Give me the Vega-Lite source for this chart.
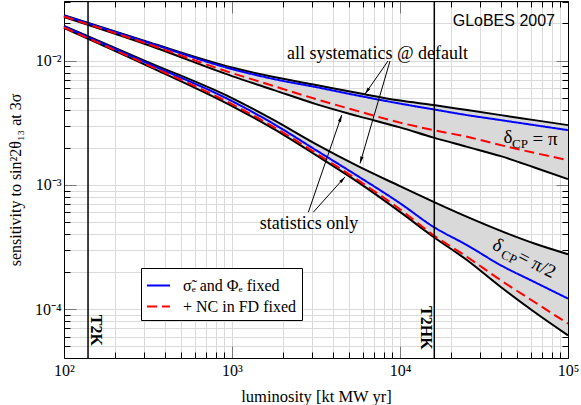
{
  "$schema": "https://vega.github.io/schema/vega-lite/v6.json",
  "width": 504,
  "height": 357,
  "autosize": "none",
  "padding": {"left": 64, "top": 1, "right": 13, "bottom": 47},
  "background": "white",
  "config": {"view": {"stroke": "black", "strokeWidth": 1}, "font": "Liberation Serif"},
  "resolve": {"axis": {"x": "independent", "y": "independent"}},
  "datasets": {
    "curves": [
      {"lum": 100, "delta": "pi", "sys": 0.02323, "blue": 0.02310, "red": 0.02273, "stat": 0.02251},
      {"lum": 316.2, "delta": "pi", "sys": 0.01415, "blue": 0.01402, "red": 0.01364, "stat": 0.01339},
      {"lum": 1000, "delta": "pi", "sys": 0.008814, "blue": 0.008573, "red": 0.007961, "stat": 0.007526},
      {"lum": 1778, "delta": "pi", "sys": 0.007388, "blue": 0.007118, "red": 0.006252, "stat": 0.005803},
      {"lum": 3162, "delta": "pi", "sys": 0.006368, "blue": 0.006136, "red": 0.004910, "stat": 0.004475},
      {"lum": 5623, "delta": "pi", "sys": 0.005490, "blue": 0.005240, "red": 0.003929, "stat": 0.003581},
      {"lum": 10000, "delta": "pi", "sys": 0.004775, "blue": 0.004517, "red": 0.003174, "stat": 0.002904},
      {"lum": 15849, "delta": "pi", "sys": 0.004392, "blue": 0.004056, "red": 0.002761, "stat": 0.002402},
      {"lum": 25119, "delta": "pi", "sys": 0.004003, "blue": 0.003648, "red": 0.002438, "stat": 0.002025},
      {"lum": 39811, "delta": "pi", "sys": 0.003648, "blue": 0.003324, "red": 0.002090, "stat": 0.001704},
      {"lum": 63096, "delta": "pi", "sys": 0.003324, "blue": 0.003030, "red": 0.001812, "stat": 0.001381},
      {"lum": 100000, "delta": "pi", "sys": 0.003030, "blue": 0.002761, "red": 0.001582, "stat": 0.001112},
      {"lum": 100, "delta": "pi/2", "sys": 0.01905, "blue": 0.01887, "red": 0.01852, "stat": 0.01835},
      {"lum": 316.2, "delta": "pi/2", "sys": 0.009761, "blue": 0.009493, "red": 0.009233, "stat": 0.009064},
      {"lum": 1000, "delta": "pi/2", "sys": 0.005002, "blue": 0.004732, "red": 0.004475, "stat": 0.004312},
      {"lum": 1778, "delta": "pi/2", "sys": 0.003324, "blue": 0.003087, "red": 0.002919, "stat": 0.002813},
      {"lum": 3162, "delta": "pi/2", "sys": 0.002129, "blue": 0.001905, "red": 0.001801, "stat": 0.001736},
      {"lum": 5623, "delta": "pi/2", "sys": 0.001415, "blue": 0.001175, "red": 0.001091, "stat": 0.001051},
      {"lum": 10000, "delta": "pi/2", "sys": 0.0009761, "blue": 0.0007117, "red": 0.0006368, "stat": 0.0006056},
      {"lum": 15849, "delta": "pi/2", "sys": 0.0007292, "blue": 0.0004584, "red": 0.0003929, "stat": 0.0003806},
      {"lum": 25119, "delta": "pi/2", "sys": 0.0005516, "blue": 0.0003264, "red": 0.0002626, "stat": 0.0002470},
      {"lum": 39811, "delta": "pi/2", "sys": 0.0004256, "blue": 0.0002251, "red": 0.0001704, "stat": 0.0001504},
      {"lum": 63096, "delta": "pi/2", "sys": 0.0003369, "blue": 0.0001651, "red": 0.0001139, "stat": 0.00009458},
      {"lum": 100000, "delta": "pi/2", "sys": 0.0002761, "blue": 0.0001213, "red": 0.00007623, "stat": 0.00006136}
    ],
    "arrows": [
      {"x": 8483, "y": 0.009944, "x2": 6190, "y2": 0.005389},
      {"x": 8720, "y": 0.009944, "x2": 5781, "y2": 0.001488},
      {"x": 2847, "y": 0.0006023, "x2": 4498, "y2": 0.003648},
      {"x": 3047, "y": 0.0006023, "x2": 4706, "y2": 0.001160}
    ]
  },
  "layer": [
    {
      "data": {"name": "curves"},
      "mark": {"type": "area", "color": "#d9d9d9", "interpolate": "monotone"},
      "encoding": {
        "x": {
          "field": "lum", "type": "quantitative",
          "scale": {"type": "log", "domain": [100, 100000], "nice": false},
          "axis": {
            "orient": "bottom",
            "values": [100,200,300,400,500,600,700,800,900,1000,2000,3000,4000,5000,6000,7000,8000,9000,10000,20000,30000,40000,50000,60000,70000,80000,90000,100000],
            "labelExpr": "datum.value == 100 ? '10²' : datum.value == 1000 ? '10³' : datum.value == 10000 ? '10⁴' : datum.value == 100000 ? '10⁵' : ''",
            "labelFont": "Liberation Serif", "labelFontSize": 16, "labelColor": "black",
            "labelPadding": 16, "labelFlush": false, "labelOverlap": false, "labelBound": false,
            "tickSize": {"condition": {"test": "abs(log(datum.value)/LN10 - round(log(datum.value)/LN10)) < 0.001", "value": -12}, "value": -6},
            "tickColor": {"condition": {"test": "abs(log(datum.value)/LN10 - round(log(datum.value)/LN10)) < 0.001", "value": "#777777"}, "value": "black"},
            "tickWidth": 1,
            "grid": true, "gridColor": "#dadada", "gridWidth": 1,
            "domainColor": "black", "domainWidth": 1,
            "title": "luminosity [kt MW yr]", "titleFont": "Liberation Serif", "titleFontSize": 16.5, "titleFontWeight": "normal", "titleColor": "black", "titlePadding": 4
          }
        },
        "y": {
          "field": "sys", "type": "quantitative",
          "scale": {"type": "log", "domain": [0.0000403, 0.0303], "nice": false},
          "axis": {
            "orient": "left",
            "values": [0.00005,0.00006,0.00007,0.00008,0.00009,0.0001,0.0002,0.0003,0.0004,0.0005,0.0006,0.0007,0.0008,0.0009,0.001,0.002,0.003,0.004,0.005,0.006,0.007,0.008,0.009,0.01,0.02,0.03],
            "labelExpr": "datum.value == 0.01 ? '10⁻²' : datum.value == 0.001 ? '10⁻³' : datum.value == 0.0001 ? '10⁻⁴' : ''",
            "labelFont": "Liberation Serif", "labelFontSize": 16, "labelColor": "black",
            "labelPadding": 15, "labelFlush": false, "labelOverlap": false, "labelBound": false,
            "tickSize": {"condition": {"test": "abs(log(datum.value)/LN10 - round(log(datum.value)/LN10)) < 0.001", "value": -12}, "value": -6},
            "tickColor": {"condition": {"test": "abs(log(datum.value)/LN10 - round(log(datum.value)/LN10)) < 0.001", "value": "#777777"}, "value": "black"},
            "tickWidth": 1,
            "grid": true, "gridColor": "#dadada", "gridWidth": 1,
            "domainColor": "black", "domainWidth": 1,
            "title": "sensitivity to sin²2θ₁₃ at 3σ", "titleFont": "Liberation Serif", "titleFontSize": 16, "titleFontWeight": "normal", "titleColor": "black", "titlePadding": 11
          }
        },
        "y2": {"field": "stat"},
        "detail": {"field": "delta"}
      }
    },
    {
      "data": {"name": "curves"},
      "mark": {"type": "line", "color": "black", "strokeWidth": 2, "interpolate": "monotone"},
      "encoding": {
        "x": {"field": "lum", "type": "quantitative", "axis": null},
        "y": {"field": "sys", "type": "quantitative", "axis": null},
        "detail": {"field": "delta"}
      }
    },
    {
      "data": {"name": "curves"},
      "mark": {"type": "line", "color": "black", "strokeWidth": 2, "interpolate": "monotone"},
      "encoding": {
        "x": {"field": "lum", "type": "quantitative", "axis": null},
        "y": {"field": "stat", "type": "quantitative", "axis": null},
        "detail": {"field": "delta"}
      }
    },
    {
      "data": {"name": "curves"},
      "mark": {"type": "line", "strokeWidth": 2, "interpolate": "monotone"},
      "encoding": {
        "x": {"field": "lum", "type": "quantitative", "axis": null},
        "y": {"field": "blue", "type": "quantitative", "axis": null},
        "detail": {"field": "delta"},
        "color": {
          "datum": "σ̃ₑ and Φₑ fixed",
          "scale": {"domain": ["σ̃ₑ and Φₑ fixed", "+ NC in FD fixed"], "range": ["#0000ff", "#ff0000"]},
          "legend": {"title": null, "orient": "none", "legendX": 77, "legendY": 267, "direction": "vertical", "symbolType": "stroke", "symbolSize": 529, "symbolStrokeWidth": 2, "labelFont": "Liberation Serif", "labelFontSize": 16, "labelColor": "black", "labelOffset": 12, "rowPadding": 0, "padding": 5, "strokeColor": "black", "fillColor": "white", "labelLimit": 300}
        },
        "strokeDash": {
          "datum": "σ̃ₑ and Φₑ fixed",
          "scale": {"domain": ["σ̃ₑ and Φₑ fixed", "+ NC in FD fixed"], "range": [[1, 0], [10, 5]]},
          "legend": {"title": null, "orient": "none", "legendX": 77, "legendY": 267, "direction": "vertical", "symbolType": "stroke", "symbolSize": 529, "symbolStrokeWidth": 2, "labelFont": "Liberation Serif", "labelFontSize": 16, "labelColor": "black", "labelOffset": 12, "rowPadding": 0, "padding": 5, "strokeColor": "black", "fillColor": "white", "labelLimit": 300}
        }
      }
    },
    {
      "data": {"name": "curves"},
      "mark": {"type": "line", "strokeWidth": 2, "interpolate": "monotone"},
      "encoding": {
        "x": {"field": "lum", "type": "quantitative", "axis": null},
        "y": {"field": "red", "type": "quantitative", "axis": null},
        "detail": {"field": "delta"},
        "color": {"datum": "+ NC in FD fixed"},
        "strokeDash": {"datum": "+ NC in FD fixed"}
      }
    },
    {
      "data": {"values": [{"x": 139, "name": "T2K"}, {"x": 16000, "name": "T2HK"}]},
      "mark": {"type": "rule", "color": "black", "strokeWidth": 1.5},
      "encoding": {"x": {"field": "x", "type": "quantitative", "axis": null}}
    },
    {
      "data": {"values": [{"x": 155.1, "y": 0.00006734, "label": "T2K"}, {"x": 14285, "y": 0.00007055, "label": "T2HK"}]},
      "mark": {"type": "text", "font": "Liberation Serif", "fontSize": 16, "fontWeight": "bold", "angle": 90, "align": "center", "baseline": "middle", "color": "black"},
      "encoding": {
        "x": {"field": "x", "type": "quantitative", "axis": null},
        "y": {"field": "y", "type": "quantitative", "axis": null},
        "text": {"field": "label"}
      }
    },
    {
      "data": {"values": [{"x": 83665, "y": 0.0209, "label": "GLoBES 2007"}]},
      "mark": {"type": "text", "font": "Liberation Sans", "fontSize": 16, "align": "right", "baseline": "middle", "color": "black"},
      "encoding": {
        "x": {"field": "x", "type": "quantitative", "axis": null},
        "y": {"field": "y", "type": "quantitative", "axis": null},
        "text": {"field": "label"}
      }
    },
    {
      "data": {"values": [{"x": 7346, "y": 0.01132, "label": "all systematics @ default"}, {"x": 2873, "y": 0.0004865, "label": "statistics only"}]},
      "mark": {"type": "text", "font": "Liberation Serif", "fontSize": 18, "align": "center", "baseline": "middle", "color": "black"},
      "encoding": {
        "x": {"field": "x", "type": "quantitative", "axis": null},
        "y": {"field": "y", "type": "quantitative", "axis": null},
        "text": {"field": "label"}
      }
    },
    {
      "data": {"name": "arrows"},
      "mark": {"type": "rule", "color": "black", "strokeWidth": 1},
      "encoding": {
        "x": {
          "field": "x", "type": "quantitative",
          "axis": {
            "orient": "top",
            "values": [100,200,300,400,500,600,700,800,900,1000,2000,3000,4000,5000,6000,7000,8000,9000,10000,20000,30000,40000,50000,60000,70000,80000,90000,100000],
            "labels": false, "grid": false, "title": null,
            "tickSize": {"condition": {"test": "abs(log(datum.value)/LN10 - round(log(datum.value)/LN10)) < 0.001", "value": -12}, "value": -6},
            "tickColor": {"condition": {"test": "abs(log(datum.value)/LN10 - round(log(datum.value)/LN10)) < 0.001", "value": "#777777"}, "value": "black"},
            "tickWidth": 1, "domainColor": "black", "domainWidth": 1
          }
        },
        "y": {
          "field": "y", "type": "quantitative",
          "axis": {
            "orient": "right",
            "values": [0.00005,0.00006,0.00007,0.00008,0.00009,0.0001,0.0002,0.0003,0.0004,0.0005,0.0006,0.0007,0.0008,0.0009,0.001,0.002,0.003,0.004,0.005,0.006,0.007,0.008,0.009,0.01,0.02,0.03],
            "labels": false, "grid": false, "title": null,
            "tickSize": {"condition": {"test": "abs(log(datum.value)/LN10 - round(log(datum.value)/LN10)) < 0.001", "value": -12}, "value": -6},
            "tickColor": {"condition": {"test": "abs(log(datum.value)/LN10 - round(log(datum.value)/LN10)) < 0.001", "value": "#777777"}, "value": "black"},
            "tickWidth": 1, "domainColor": "black", "domainWidth": 1
          }
        },
        "x2": {"field": "x2"},
        "y2": {"field": "y2"}
      }
    },
    {
      "data": {"values": [{"x": 6190, "y": 0.005389}]},
      "mark": {"type": "point", "shape": "M0,0L0.55,2.3L-0.55,2.3Z", "filled": true, "color": "black", "opacity": 1, "size": 36, "angle": 214.9},
      "encoding": {"x": {"field": "x", "type": "quantitative", "axis": null}, "y": {"field": "y", "type": "quantitative", "axis": null}}
    },
    {
      "data": {"values": [{"x": 5781, "y": 0.001488}]},
      "mark": {"type": "point", "shape": "M0,0L0.55,2.3L-0.55,2.3Z", "filled": true, "color": "black", "opacity": 1, "size": 36, "angle": 196.3},
      "encoding": {"x": {"field": "x", "type": "quantitative", "axis": null}, "y": {"field": "y", "type": "quantitative", "axis": null}}
    },
    {
      "data": {"values": [{"x": 4498, "y": 0.003648}]},
      "mark": {"type": "point", "shape": "M0,0L0.55,2.3L-0.55,2.3Z", "filled": true, "color": "black", "opacity": 1, "size": 36, "angle": 19.0},
      "encoding": {"x": {"field": "x", "type": "quantitative", "axis": null}, "y": {"field": "y", "type": "quantitative", "axis": null}}
    },
    {
      "data": {"values": [{"x": 4706, "y": 0.001160}]},
      "mark": {"type": "point", "shape": "M0,0L0.55,2.3L-0.55,2.3Z", "filled": true, "color": "black", "opacity": 1, "size": 36, "angle": 41.9},
      "encoding": {"x": {"field": "x", "type": "quantitative", "axis": null}, "y": {"field": "y", "type": "quantitative", "axis": null}}
    },
    {
      "data": {"values": [{"x": 43950, "y": 0.002424, "label": "δ"}, {"x": 72980, "y": 0.002336, "label": "= π"}]},
      "mark": {"type": "text", "font": "Liberation Serif", "fontSize": 19, "align": "center", "baseline": "middle", "color": "black"},
      "encoding": {
        "x": {"field": "x", "type": "quantitative", "axis": null},
        "y": {"field": "y", "type": "quantitative", "axis": null},
        "text": {"field": "label"}
      }
    },
    {
      "data": {"values": [{"x": 51800, "y": 0.002129, "label": "CP"}]},
      "mark": {"type": "text", "font": "Liberation Serif", "fontSize": 13, "align": "center", "baseline": "middle", "color": "black"},
      "encoding": {
        "x": {"field": "x", "type": "quantitative", "axis": null},
        "y": {"field": "y", "type": "quantitative", "axis": null},
        "text": {"field": "label"}
      }
    },
    {
      "data": {"values": [{"x": 38310, "y": 0.0003264, "label": "δ"}, {"x": 65390, "y": 0.0002293, "label": "= π/2"}]},
      "mark": {"type": "text", "font": "Liberation Serif", "fontSize": 19, "align": "center", "baseline": "middle", "angle": 27, "color": "black"},
      "encoding": {
        "x": {"field": "x", "type": "quantitative", "axis": null},
        "y": {"field": "y", "type": "quantitative", "axis": null},
        "text": {"field": "label"}
      }
    },
    {
      "data": {"values": [{"x": 44550, "y": 0.0002611, "label": "CP"}]},
      "mark": {"type": "text", "font": "Liberation Serif", "fontSize": 13, "align": "center", "baseline": "middle", "angle": 27, "color": "black"},
      "encoding": {
        "x": {"field": "x", "type": "quantitative", "axis": null},
        "y": {"field": "y", "type": "quantitative", "axis": null},
        "text": {"field": "label"}
      }
    }
  ]
}
